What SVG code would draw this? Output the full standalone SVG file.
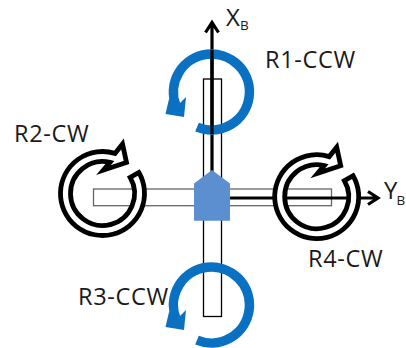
<svg xmlns="http://www.w3.org/2000/svg" width="406" height="348" viewBox="0 0 406 348">
<style>
text{font-family:"Open Sans","Noto Sans",sans-serif;fill:#1a1a1a}
.l{font-size:23.5px;letter-spacing:0.7px}
.a{font-size:24px}
.s{font-size:13.5px}
.arm{fill:#fff;stroke-width:1.3}
.axis{fill:none;stroke:#000;stroke-width:3.2}
.blue{fill:none;stroke:#0a70c2;stroke-width:9.5}
.bh{fill:#0a70c2}
.ring{fill:#fff;stroke:#000;stroke-width:4.8;stroke-linejoin:miter}
</style>
<defs>
<g id="ccw"><path class="blue" d="M197 127.2A38 38 0 1 0 176 105.8"/><path class="bh" d="M165.5 114L184 117L186 97L178 105L169 99Z"/></g>
<path id="cw" class="ring" d="M130.21 177.5A32 32 0 1 1 110 162.4L103.5 170L126.5 162.5L122.5 144L115 153.4A42 42 0 1 0 138.87 172.5Z"/>
</defs>
<g id="arm-y"><rect class="arm" stroke="#666" x="93.5" y="189" width="238" height="16.7"/></g>
<g id="arm-x"><rect class="arm" stroke="#000" x="203.5" y="79" width="18" height="237.5"/></g>
<g id="connectors">
<path class="axis" d="M212 172V24M205.5 32.5L212 22.5L218.5 32.5"/>
<path class="axis" d="M230 198H377M368 191.5L378 198L368 204.5"/>
</g>
<g id="rotor1"><use href="#ccw"/><path d="M212 50V134" stroke="#000" stroke-width="3.2"/><text class="l" x="265" y="68">R1-CCW</text></g>
<g id="rotor2"><use href="#cw"/><text class="l" x="14" y="142">R2-CW</text></g>
<g id="rotor3"><use href="#ccw" y="213"/><text class="l" x="78" y="305">R3-CCW</text></g>
<g id="rotor4"><use href="#cw" x="214.2" y="3.2"/><text class="l" x="308" y="267">R4-CW</text></g>
<g id="body"><path fill="#5b8fd0" d="M194 183.5L212 170L230 183.5V220.8H194Z"/></g>
<g id="label-xb"><text class="a" x="226" y="26">X</text><text class="s" x="240" y="30">B</text></g>
<g id="label-yb"><text class="a" x="384" y="199">Y</text><text class="s" x="396.500" y="205">B</text></g>
</svg>
